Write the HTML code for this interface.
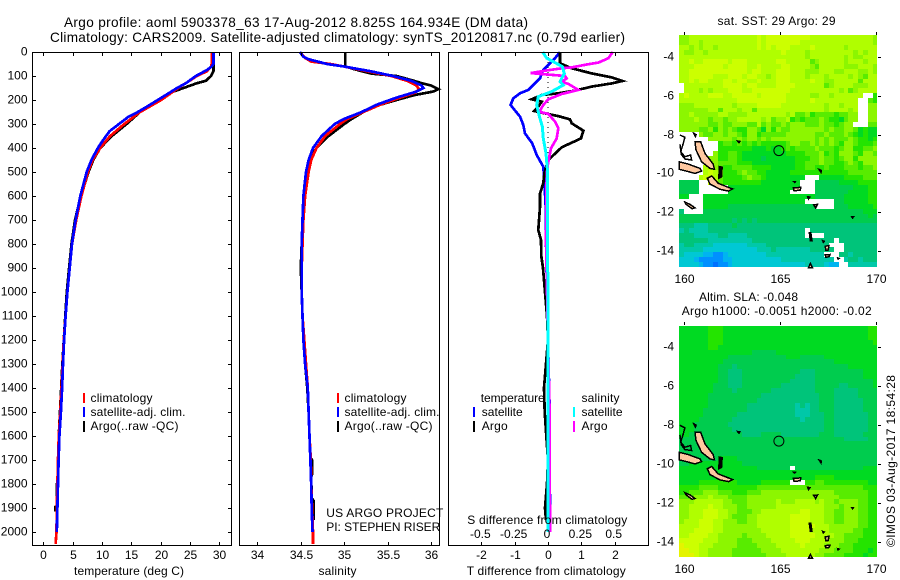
<!DOCTYPE html>
<html>
<head>
<meta charset="utf-8">
<title>Argo profile</title>
<style>
html,body{margin:0;padding:0;background:#fff;width:900px;height:580px;overflow:hidden}
svg{display:block}
text{font-family:"Liberation Sans",sans-serif;font-size:12px;fill:#000}
.t{font-size:13.6px}
.r{text-anchor:end}
.m{text-anchor:middle}
</style>
</head>
<body>
<svg id="fig" width="900" height="580" viewBox="0 0 900 580" xmlns="http://www.w3.org/2000/svg">
<rect width="900" height="580" fill="#fff"/>
<text class="t" x="64" y="27" textLength="464" lengthAdjust="spacing">Argo profile: aoml 5903378_63 17-Aug-2012 8.825S 164.934E (DM data)</text>
<text class="t" x="50" y="42" textLength="575" lengthAdjust="spacing">Climatology: CARS2009. Satellite-adjusted climatology: synTS_20120817.nc (0.79d earlier)</text>

<g id="heat1"></g>
<g id="heat2"></g>
<g id="land"></g>
<g id="p1"></g>
<g id="p2"></g>
<g id="p3"></g>
<g id="axes"></g>

<g>
<rect x="83" y="393" width="2" height="10" fill="#f00"/>
<rect x="83" y="407" width="2" height="10" fill="#00f"/>
<rect x="83" y="421" width="2" height="11" fill="#000"/>
<text x="90.5" y="402" textLength="62">climatology</text>
<text x="90.5" y="416" textLength="95">satellite-adj. clim.</text>
<text x="90.5" y="430" textLength="88">Argo(..raw -QC)</text>
</g>
<g>
<rect x="337" y="393" width="2" height="10" fill="#f00"/>
<rect x="337" y="407" width="2" height="10" fill="#00f"/>
<rect x="337" y="421" width="2" height="11" fill="#000"/>
<text x="344.5" y="402" textLength="62">climatology</text>
<text x="344.5" y="416" textLength="95">satellite-adj. clim.</text>
<text x="344.5" y="430" textLength="88">Argo(..raw -QC)</text>
<text x="326.3" y="517" textLength="117">US ARGO PROJECT</text>
<text x="326.3" y="531" textLength="114">PI: STEPHEN RISER</text>
</g>
<g>
<text x="480.7" y="402" textLength="64">temperature</text>
<text x="581.5" y="402" textLength="38">salinity</text>
<rect x="473" y="407" width="2" height="10" fill="#00f"/>
<rect x="473" y="421" width="2" height="11" fill="#000"/>
<rect x="573" y="407" width="2" height="10" fill="#0ff"/>
<rect x="573" y="421" width="2" height="11" fill="#f0f"/>
<text x="481.7" y="416" textLength="41">satellite</text>
<text x="481.7" y="430" textLength="26">Argo</text>
<text x="581.5" y="416" textLength="41">satellite</text>
<text x="581.5" y="430" textLength="26">Argo</text>
<text x="467.3" y="524" textLength="160">S difference from climatology</text>
</g>
<text x="74" y="575" textLength="110">temperature (deg C)</text>
<text x="318.5" y="575" textLength="38">salinity</text>
<text x="466.7" y="575" textLength="159">T difference from climatology</text>
<text x="717.5" y="25" textLength="118">sat. SST: 29 Argo: 29</text>
<text x="699" y="301" textLength="99">Altim. SLA: -0.048</text>
<text x="681.7" y="315" textLength="190">Argo h1000: -0.0051 h2000: -0.02</text>
<text transform="translate(895,547) rotate(-90)" textLength="172">©IMOS 03-Aug-2017 18:54:28</text>
</svg>

<script>
// ---------- profile data ----------
var tempDepthArgo = [0,60,80,100,120,130,150,170,200,250,300,350,400,450,500,600,700,800,900,1000,1100,1200,1300,1400,1500,1600,1700,1790,1800,1850,1860,1890,1895,1915];
var tempArgo = [29,29,29,28.6,27.7,26.2,23.9,21.6,19.9,16.5,14.2,11.7,9.7,8.5,7.7,6.4,5.4,4.8,4.4,4.0,3.75,3.5,3.25,3.05,2.85,2.65,2.5,2.5,2.3,2.3,2.45,2.4,2.05,2.05];
var tempDepthClim = [0,50,60,80,100,150,200,250,300,350,400,450,500,600,700,800,900,1000,1100,1200,1300,1400,1500,1600,1700,1800,1900,2000,2050];
var tempClim = [28.7,28.7,28.6,27.9,26.2,23,20.1,16.5,13.8,11.4,9.7,8.4,7.6,6.5,5.6,4.9,4.5,4.1,3.8,3.5,3.3,3.1,2.9,2.65,2.5,2.4,2.3,2.25,2.1];
var tempDepthSat = [0,50,60,75,100,130,150,170,200,230,250,270,300,330,370,400,450,500,600,700,800,900,1000,1100,1200,1300,1400,1500,1600,1700,1800,1900,2000];
var tempSat = [29,29,28.7,27.9,26,24.3,22.8,21.5,19.5,17.5,16.1,14.5,12.9,11.3,10.1,9.3,8.2,7.4,6.3,5.5,4.9,4.5,4.1,3.8,3.55,3.35,3.2,3,2.75,2.6,2.5,2.4,2.3];

var salDepthArgo = [0,60,70,80,90,100,110,120,130,140,155,165,180,200,220,250,280,300,350,400,450,500,600,700,800,900,1000,1100,1200,1300,1400,1500,1600,1690,1700,1760,1770,1860,1870,1950];
var salArgo = [35.01,35.01,35.1,35.2,35.31,35.6,35.7,35.8,35.89,36,36.08,36.02,35.8,35.6,35.41,35.22,35.08,35,34.82,34.68,34.6,34.56,34.53,34.52,34.51,34.5,34.51,34.52,34.53,34.55,34.575,34.59,34.6,34.61,34.63,34.63,34.62,34.625,34.65,34.65];
var salDepthClim = [0,10,25,40,50,60,80,100,120,140,155,170,190,220,250,280,300,350,400,450,500,600,700,800,900,1000,1100,1200,1300,1400,1500,1600,1700,1800,1900,2000,2050];
var salClim = [34.51,34.51,34.55,34.62,34.84,34.99,35.26,35.54,35.72,35.83,35.86,35.81,35.64,35.41,35.22,35.03,34.95,34.78,34.68,34.62,34.59,34.55,34.53,34.52,34.51,34.51,34.52,34.54,34.56,34.58,34.59,34.6,34.615,34.62,34.63,34.64,34.64];
var salDepthSat = [0,20,30,50,60,80,100,120,140,150,165,190,220,250,280,300,350,400,450,500,600,700,800,900,1000,1100,1200,1300,1400,1500,1600,1700,1800,1900,2000];
var salSat = [34.49,34.53,34.59,34.8,34.99,35.3,35.56,35.77,35.89,35.91,35.83,35.6,35.37,35.2,34.99,34.89,34.74,34.64,34.59,34.56,34.53,34.52,34.51,34.51,34.51,34.52,34.53,34.55,34.58,34.59,34.6,34.61,34.62,34.625,34.635];

var diffDepthTArgo = [0,47,68,89,106,121,131,144,161,172,179,197,207,228,246,253,267,281,297,328,360,397,450,471,506,547,589,644,742,783,850,900,1000,1100,1200,1300,1400,1500,1600,1700,1800,1900,1950];
var diffTArgo = [.36,.36,.71,1.31,1.91,2.23,1.91,1.31,.81,.31,-.19,-.49,-.19,-.29,-.41,-.19,.31,.66,.71,1.06,.99,.41,.01,-.04,-.11,-.14,-.24,-.24,-.29,-.21,-.2,-.15,-.09,-.03,0,-.06,-.12,-.1,-.05,0,-.03,-.09,-.06];
var diffDepthTSat = [0,26,54,75,89,110,131,158,172,193,221,235,269,304,339,381,429,478,533,644,728,1000,1200,1500,2000];
var diffTSat = [.36,.21,.01,-.14,-.19,-.24,-.39,-.59,-.84,-1.04,-1.12,-1.04,-.84,-.74,-.69,-.47,-.34,-.14,-.11,-.07,-.07,-.03,0,.05,.06];
var diffDepthSArgo = [0,26,44,51,64,68,78,88,93,100,110,124,133,158,175,197,221,249,258,290,318,360,401,457,506,783,1200,1500,2000];
var diffSArgo = [.485,.4525,.3775,.3025,.1775,.1025,-.0225,-.13,-.0225,.1275,.14,.1025,.1525,.2275,.1025,.0025,-.035,-.065,.0025,.0525,.0775,.065,.0225,.0025,-.01,-.015,0,.012,.015];
var diffDepthSSat = [0,26,44,61,89,124,138,165,186,221,262,311,360,422,506,783,1500,2000];
var diffSSat = [-.04,-.01,.0525,.1075,.1225,.09,.115,.0275,-.0725,-.085,-.0675,-.0425,-.035,-.015,-.0025,-.0025,0,0];

// ---------- tick labels ----------
var depthTicks = [0,100,200,300,400,500,600,700,800,900,1000,1100,1200,1300,1400,1500,1600,1700,1800,1900,2000];
var tempTicks = [0,5,10,15,20,25,30];
var salTicks = ['34','34.5','35','35.5','36'];
var diffTTicks = ['-2','-1','0','1','2'];
var diffSTicks = ['-0.5','-0.25','0','0.25','0.5'];
var lonTicks = ['160','165','170'];
var latTicks = ['-4','-6','-8','-10','-12','-14'];

// ---------- map grids: one character per 0.25 degree cell, '.' = no data ----------
var sstRows = [
"77888888888888889899999999988888888888887",
"77887888888888889899999998888888888888887",
"88787887888888889898999888898888887888888",
"87788788888888888888898888788888888878788",
"88888888888888888888888888788888887877888",
"88988999998999888888998888867888887888788",
"88899999989999889888899888876888887778887",
"88999999999999899888999888777888778887787",
"88999998889998998878999888788878888787688",
"88989988899899889888999888898877888886888",
".88888888999989988889999888888678888777888",
".88878788899988999999998888888888786788888",
"89888899988999998999998888877887888888..5",
"8888888888889999999999888889888888888..65",
"7778888888878888999998888888887887888..77",
"7777778868887886888888888888887888878..77",
"7787777788777788888888786675666656677..77",
"7778776776778888878677856566676554677..77",
"777777667667776686766767776667665677...66",
"77776675767655776475766777777767667764544",
"....7667767765775666667777776676667654544",
"......77777676776767777777776767666765545",
"........566565656555556776676767657765556",
"........555555544454456566667666567755667",
".......7556654444444445555666756577765776",
"......77556654444344444455566766567757777",
"......77666655544444444455666766556765777",
".....887655666655554444455665565556665667",
".....898755567665544444555555555555666666",
"....8998655556766544444444...444445555666",
"3333..9865555555544444444...3333344445555",
"3333......444444444444444...3333333344455",
"3333......4444444444444.....3333333444455",
"44...444444444444444444444443333334444455",
".....444444444444444444444......334444455",
".....44444333333333333333333....333444445",
"2....333333333333333333333333333333333444",
"33333333333333333333333333333333333333343",
"33333333333232323333333333333333333333333",
"22211122222322222222222222222222222222222",
"12111122222222222222222222.22222222222222",
"22211111221111222222222222....22222222222",
"22222211111111122222222222222222.22222222",
"1221111000000011112222222222222...2222222",
"11111000000000001112111111122222..22222222",
"10000aabba00000000111111111111...22122222",
"000abbbbbaa000000000011111111111..1221222",
"0000abbcbba00000000000000011110aa..111111"
];
var slaRows = [
"44444455544444444444444444444444444444455",
"44444455544444444444444444444444444444455",
"44444455544444444444444444444444444444455",
"44444455544444444444444444444444444444445",
"44444455444444444444444444444444444444444",
"44444444444444433333444444444444444444444",
"44444444443333333333334443333344444444444",
"44444444433333333333333333333333444444444",
"44444444333233333333333333333333333444444",
"44444444332223333333333332223333333333444",
"44444444332223333333333322223333333333444",
"44444444332223333333333222223333333333334",
"44444443332223333333322222223333322333334",
"44444443333233333332222222223333222223333",
"44444433333333333222222222222333222223333",
"44444433333333332222222222222333222222333",
"44444433333333222222222212122333222222333",
"44444333333333222222222211122333222222333",
"44444333333322222222222211122233222222233",
"44443333333222222222222221222233222222233",
"44433333332222222222222222222233222222233",
"44433333333222222222222222222233222222233",
"44333333333332222333322222222333222222333",
"33333333333333333333333333333333332222233",
"33333333333333333333333333333333333333333",
"33333333333333333333333333333333333333333",
"33333333333333333333333333333333333333333",
"33333333444433333333333333333333333333333",
"33444444444443333333333333333333333333333",
"44444444444444443333333.33333333333333444",
"44444444444444444444444444444444444444444",
"44444444444444444444444444445555444444444",
"44445555555544444555555...55665555555554",
"55556666555555556666666666666666666666555",
"55666777666555666777777777777777666666655",
"66677787776666777777777777777777766666655",
"77788888877666777777877788887877677776655",
"77888898877766777777888888888877767776655",
"77888999887766677888888889988877667776655",
"77888999887666778888888999988877667776655",
"78889998877766778888888999988877667776655",
"88889998877777778888888999998887777776655",
"88899998877777777888888999988887777766555",
"88999988777776777788888999998888776666555",
"99999888777766677778888899988887776665555",
"y9998887777766667777888889888877766655555",
"yy998877777666666777788888888777666655545",
"yyy9887777766666667777888888776666555545"
];
// land outlines as [lon, lat] pairs
var islandFilled = [
[[160.56,-8.36],[160.85,-8.36],[161.08,-8.97],[161.51,-9.52],[161.57,-9.79],[161.34,-9.74],[160.9,-9.4],[160.61,-8.79]],
[[159.74,-9.4],[160.21,-9.52],[160.82,-9.74],[160.9,-9.88],[160.56,-10],[160.03,-9.86],[159.74,-9.79]],
[[161.2,-10.25],[161.43,-10.13],[161.77,-10.51],[162.3,-10.72],[162.52,-10.8],[162.3,-10.91],[161.86,-10.82],[161.34,-10.55]],
[[165.69,-10.74],[166.07,-10.72],[166.05,-10.87],[165.72,-10.89]],
[[166.75,-11.62],[166.95,-11.6],[166.85,-11.78]],
[[167.35,-13.75],[167.55,-13.72],[167.5,-13.95],[167.38,-13.95]],
[[167.35,-14.2],[167.6,-14.18],[167.55,-14.3],[167.38,-14.32]],
[[166.48,-14.85],[166.58,-14.65],[166.68,-14.85]],
[[160.03,-11.48],[160.3,-11.6],[160.56,-11.78],[160.4,-11.82],[160.1,-11.6]]
];
var islandBlack = [
[[161.83,-9.65],[161.97,-9.68],[161.95,-10.17],[161.8,-10.25]],
[[162.78,-8.33],[162.9,-8.35],[162.85,-8.42]],
[[160.5,-7.94],[160.62,-8],[160.58,-8.1]],
[[166.43,-11.2],[166.55,-11.22],[166.48,-11.32]],
[[166.52,-13.05],[166.6,-13.05],[166.66,-13.47],[166.58,-13.47]],
[[167.03,-9.8],[167.15,-9.85],[167.13,-9.95]],
[[168.74,-12.24],[168.82,-12.24],[168.78,-12.3]],
[[165.7,-10.42],[165.8,-10.42],[165.76,-10.47]],
[[167.22,-13.47],[167.3,-13.5],[167.25,-13.55]],
[[168,-14.36],[168.07,-14.38],[168.02,-14.42]]
];
var coastLines = [
[[159.77,-8.02],[160.03,-8.14],[159.95,-8.45],[159.81,-8.88],[160.03,-9.14],[160.33,-9.05],[160.38,-9.31],[160.03,-9.26],[159.85,-9.02],[159.77,-8.5]]
];
var profileLon = 164.934;
var profileLat = -8.825;

// ---------- palette ----------
var heatColors = {b:'#0090ff',c:'#0070ff',a:'#00b4f0','0':'#00c8d4','1':'#00c8a8','2':'#00c47a','3':'#00cc4e','4':'#00da22','5':'#24e400','6':'#58ec00','7':'#8cf600','8':'#b0fe00','9':'#ccff00',y:'#e4f400','.':'#ffffff'};

// ---------- helpers ----------
var NS = 'http://www.w3.org/2000/svg';
function scale(d0,d1,r0,r1){ return function(v){ return r0+(v-d0)*(r1-r0)/(d1-d0); }; }
function add(parent,tag){ var el=document.createElementNS(NS,tag); document.getElementById(parent).appendChild(el); return el; }
var yDepth = scale(0,2000,52,532);
var xTemp = scale(0,30,43.3,219.3);
var xSal = scale(34,36,257.3,431.3);
var xDiffT = scale(-2,2,481.3,614.7);
var xDiffS = scale(-.5,.5,481.3,614.7);

function profile(parent,name,xs,ds,xf,color,w){
  var el=add(parent,'polyline');
  
  
  el.setAttribute('points', xs.map(function(v,i){ return xf(v).toFixed(1)+','+yDepth(ds[i]).toFixed(1); }).join(' '));
  el.setAttribute('fill','none');
  el.setAttribute('stroke',color);
  el.setAttribute('stroke-width',w||2.7);
  el.setAttribute('shape-rendering','crispEdges');
}
function seg(x1,y1,x2,y2,name){
  var el=add('axes','line');
  
  
  el.setAttribute('x1',x1);el.setAttribute('y1',y1);el.setAttribute('x2',x2);el.setAttribute('y2',y2);
  el.setAttribute('stroke','#000');el.setAttribute('stroke-width',1);
  el.setAttribute('shape-rendering','crispEdges');
}
function label(str,x,y,cls,name){
  var el=add('axes','text');
  
  
  el.setAttribute('x',x);el.setAttribute('y',y);
  if(cls) el.setAttribute('class',cls);
  el.textContent=str;
}
function frame(x0,x1,y0,y1,name){
  var el=add('axes','rect');
  
  
  el.setAttribute('x',x0);el.setAttribute('y',y0);el.setAttribute('width',x1-x0);el.setAttribute('height',y1-y0);
  el.setAttribute('fill','none');el.setAttribute('stroke','#000');el.setAttribute('stroke-width',1);
  el.setAttribute('shape-rendering','crispEdges');
}

// ---------- profiles ----------
profile('p1','argo-temperature-line',tempArgo,tempDepthArgo,xTemp,'#000');
profile('p1','climatology-temperature-line',tempClim,tempDepthClim,xTemp,'#f00');
profile('p1','satellite-temperature-line',tempSat,tempDepthSat,xTemp,'#00f');
profile('p2','argo-salinity-line',salArgo,salDepthArgo,xSal,'#000');
profile('p2','climatology-salinity-line',salClim,salDepthClim,xSal,'#f00');
profile('p2','satellite-salinity-line',salSat,salDepthSat,xSal,'#00f');

var zero=add('p3','line');


zero.setAttribute('x1',xDiffT(0));zero.setAttribute('x2',xDiffT(0));zero.setAttribute('y1',52);zero.setAttribute('y2',170);
zero.setAttribute('stroke','#000');zero.setAttribute('stroke-dasharray','1 4');
profile('p3','t-satellite-difference-line',diffTSat,diffDepthTSat,xDiffT,'#00f');
profile('p3','t-argo-difference-line',diffTArgo,diffDepthTArgo,xDiffT,'#000');
profile('p3','s-argo-difference-line',diffSArgo,diffDepthSArgo,xDiffS,'#f0f');
profile('p3','s-satellite-difference-line',diffSSat,diffDepthSSat,xDiffS,'#0ff',3);

// ---------- profile axes ----------
frame(32.5,231.5,52.5,545.5,'temperature-frame');
frame(239.5,439.5,52.5,545.5,'salinity-frame');
frame(448.5,648.5,52.5,545.5,'difference-frame');
depthTicks.forEach(function(d){
  var y=Math.round(yDepth(d))+.5;
  seg(32.5,y,36,y,'depth-tick-left');
  seg(228,y,231.5,y,'depth-tick-right');
  label(String(d),27.5,y+3,'r','depth-tick-label');
});
tempTicks.forEach(function(v){
  var x=Math.round(xTemp(v))+.5;
  seg(x,52.5,x,56,'temperature-tick-top');
  seg(x,542,x,545.5,'temperature-tick-bottom');
  label(String(v),x,559,'m','temperature-tick-label');
});
salTicks.forEach(function(s){
  var x=Math.round(xSal(+s))+.5;
  seg(x,52.5,x,56,'salinity-tick-top');
  seg(x,542,x,545.5,'salinity-tick-bottom');
  label(s,x,559,'m','salinity-tick-label');
});
diffTTicks.forEach(function(s){
  var x=Math.round(xDiffT(+s))+.5;
  seg(x,52.5,x,56,'t-difference-tick-top');
  seg(x,542,x,545.5,'t-difference-tick-bottom');
  label(s,x,559,'m','t-difference-tick-label');
});
diffSTicks.forEach(function(s){
  label(s,xDiffS(+s)-1,538,'m','s-difference-tick-label');
});

// ---------- maps ----------
function drawMap(id,rows,cellName,xf,yf){
  rows.forEach(function(row,r){
    for(var c=0;c<41;c++){
      var ch=row.charAt(c)||row.charAt(row.length-1);
      var lon=159.74+c*.252, lat=-2.88-r*.2485;
      var el=add(id,'rect');
      
      
      var x0=Math.round(xf(lon)), x1=Math.round(xf(lon+.252));
      var y0=Math.round(yf(lat)), y1=Math.round(yf(lat-.2485));
      el.setAttribute('x',x0);el.setAttribute('y',y0);
      el.setAttribute('width',x1-x0);el.setAttribute('height',y1-y0);
      el.setAttribute('fill',heatColors[ch]||'#fff');
      el.setAttribute('shape-rendering','crispEdges');
    }
  });
}
var xLon = scale(160,170,684.3,876);
var yLat1 = scale(-4,-14,57,251);
var yLat2 = scale(-4,-14,347.3,541.7);
drawMap('heat1',sstRows,'sst-cell',xLon,yLat1);
drawMap('heat2',slaRows,'sla-cell',xLon,yLat2);

function shape(pts,yf,name,fill,tag){
  var el=add('land',tag);
  
  
  el.setAttribute('points',pts.map(function(p){ return xLon(p[0]).toFixed(1)+','+yf(p[1]).toFixed(1); }).join(' '));
  el.setAttribute('fill',fill);
  el.setAttribute('stroke','#000');
  el.setAttribute('stroke-width',1.5);
  el.setAttribute('shape-rendering','crispEdges');
}
[yLat1,yLat2].forEach(function(yf){
  islandFilled.forEach(function(p){ shape(p,yf,'island','#ffc8a0','polygon'); });
  islandBlack.forEach(function(p){ shape(p,yf,'small-island','#000','polygon'); });
  coastLines.forEach(function(p){ shape(p,yf,'island-chain','none','polyline'); });
  var ring=add('land','circle');
  
  
  ring.setAttribute('cx',xLon(profileLon));ring.setAttribute('cy',yf(profileLat));ring.setAttribute('r',5);
  ring.setAttribute('fill','none');ring.setAttribute('stroke','#000');ring.setAttribute('stroke-width',1);
});
[[yLat1,35,283],[yLat2,325,573]].forEach(function(m){
  lonTicks.forEach(function(s){
    var x=Math.round(xLon(+s))+.5;
    seg(x,m[1]-3,x,m[1],'longitude-tick');
    label(s,x,m[2],'m','longitude-tick-label');
  });
  latTicks.forEach(function(s){
    var y=Math.round(m[0](+s))+.5;
    seg(878,y,881,y,'latitude-tick');
    label(s,674,y+3,'r','latitude-tick-label');
  });
});
</script>
</body>
</html>
